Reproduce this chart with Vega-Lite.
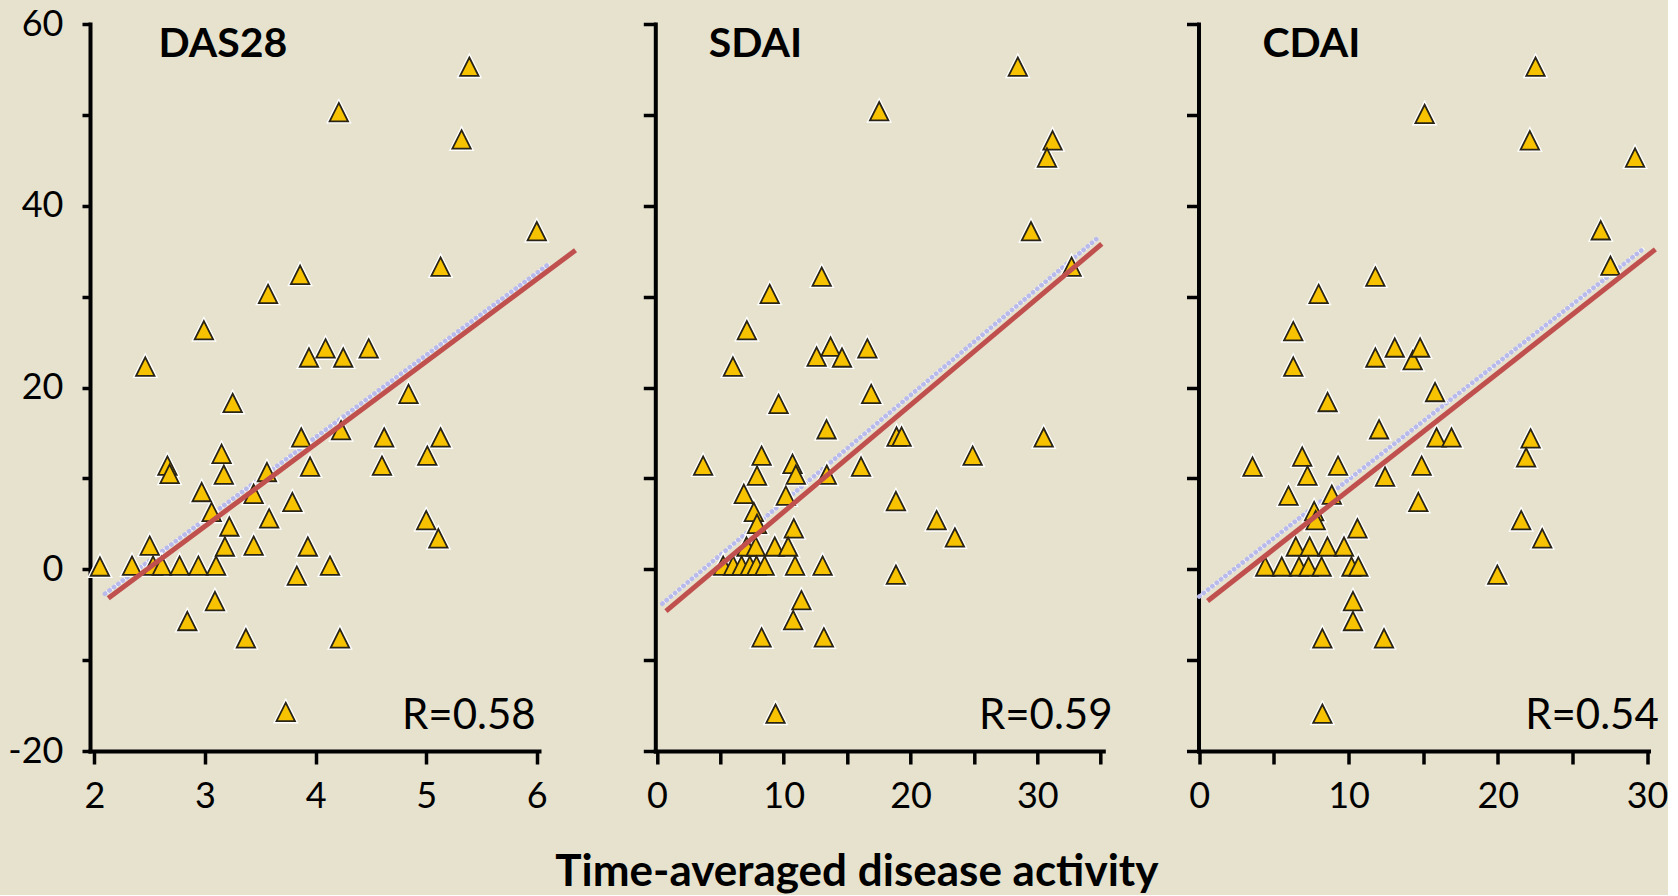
{
  "$schema": "https://vega.github.io/schema/vega-lite/v6.json",
  "background": "#E6E2CE",
  "padding": {"left": 7, "top": 6, "right": 0, "bottom": 0},
  "config": {
    "view": {"stroke": null},
    "font": "Lato",
    "axis": {"grid": false, "domainColor": "#000000", "domainWidth": 4, "tickColor": "#000000", "tickWidth": 3.5, "labelColor": "#000000", "labelFont": "Lato", "labelFontSize": 36, "labelOverlap": false, "labelFlush": false, "labelBound": false, "domainCap": "square"}
  },
  "title": {"text": "Time-averaged disease activity", "orient": "bottom", "anchor": "middle", "frame": "bounds", "fontSize": 44, "fontWeight": "bold", "font": "Lato", "color": "#000000", "offset": 37, "dx": 19},
  "datasets": {
    "das28": [
      {"x": 2.05, "y": 0.3}, {"x": 2.34, "y": 0.4}, {"x": 2.50, "y": 2.6}, {"x": 2.53, "y": 0.4}, {"x": 2.61, "y": 0.4},
      {"x": 2.77, "y": 0.4}, {"x": 2.94, "y": 0.4}, {"x": 3.10, "y": 0.4}, {"x": 2.66, "y": 11.4}, {"x": 2.68, "y": 10.5},
      {"x": 3.15, "y": 12.7}, {"x": 3.17, "y": 10.4}, {"x": 2.97, "y": 8.5}, {"x": 3.06, "y": 6.3}, {"x": 3.22, "y": 4.7},
      {"x": 3.18, "y": 2.5}, {"x": 3.44, "y": 2.6}, {"x": 3.44, "y": 8.3}, {"x": 3.56, "y": 10.7}, {"x": 3.58, "y": 5.6},
      {"x": 3.79, "y": 7.4}, {"x": 3.87, "y": 14.5}, {"x": 3.95, "y": 11.3}, {"x": 4.23, "y": 15.3}, {"x": 4.62, "y": 14.5},
      {"x": 4.60, "y": 11.4}, {"x": 3.93, "y": 2.5}, {"x": 3.83, "y": -0.7}, {"x": 4.13, "y": 0.4}, {"x": 3.09, "y": -3.5},
      {"x": 2.84, "y": -5.7}, {"x": 3.37, "y": -7.6}, {"x": 4.22, "y": -7.6}, {"x": 5.39, "y": 55.3}, {"x": 4.21, "y": 50.3},
      {"x": 5.32, "y": 47.3}, {"x": 6.00, "y": 37.2}, {"x": 5.13, "y": 33.3}, {"x": 3.86, "y": 32.4}, {"x": 3.57, "y": 30.3},
      {"x": 2.99, "y": 26.3}, {"x": 2.46, "y": 22.3}, {"x": 3.94, "y": 23.3}, {"x": 4.09, "y": 24.3}, {"x": 4.25, "y": 23.3},
      {"x": 4.48, "y": 24.3}, {"x": 4.84, "y": 19.3}, {"x": 3.25, "y": 18.3}, {"x": 5.13, "y": 14.5}, {"x": 5.01, "y": 12.5},
      {"x": 5.00, "y": 5.4}, {"x": 5.11, "y": 3.4}, {"x": 3.73, "y": -15.7}
    ],
    "sdai": [
      {"x": 13.38, "y": 15.4}, {"x": 18.9, "y": 14.6}, {"x": 19.3, "y": 14.6}, {"x": 24.9, "y": 12.5}, {"x": 3.65, "y": 11.4},
      {"x": 8.26, "y": 12.5}, {"x": 10.7, "y": 11.6}, {"x": 10.96, "y": 10.4}, {"x": 13.4, "y": 10.4}, {"x": 16.1, "y": 11.3},
      {"x": 7.9, "y": 10.3}, {"x": 6.86, "y": 8.3}, {"x": 10.17, "y": 8.1}, {"x": 18.85, "y": 7.5}, {"x": 7.65, "y": 6.3},
      {"x": 7.9, "y": 5.0}, {"x": 10.8, "y": 4.5}, {"x": 22.06, "y": 5.4}, {"x": 23.5, "y": 3.5}, {"x": 7.07, "y": 2.5},
      {"x": 7.8, "y": 2.5}, {"x": 9.3, "y": 2.5}, {"x": 10.35, "y": 2.5}, {"x": 5.23, "y": 0.4}, {"x": 6.02, "y": 0.4},
      {"x": 6.68, "y": 0.4}, {"x": 7.33, "y": 0.4}, {"x": 7.86, "y": 0.4}, {"x": 8.5, "y": 0.4}, {"x": 10.9, "y": 0.4},
      {"x": 13.07, "y": 0.4}, {"x": 18.85, "y": -0.6}, {"x": 11.4, "y": -3.4}, {"x": 10.75, "y": -5.6}, {"x": 8.26, "y": -7.5},
      {"x": 13.17, "y": -7.5}, {"x": 9.36, "y": -15.9}, {"x": 30.5, "y": 14.5}, {"x": 28.46, "y": 55.3}, {"x": 17.53, "y": 50.4},
      {"x": 31.2, "y": 47.2}, {"x": 30.76, "y": 45.3}, {"x": 29.5, "y": 37.2}, {"x": 32.7, "y": 33.3}, {"x": 13.0, "y": 32.2},
      {"x": 8.9, "y": 30.3}, {"x": 7.1, "y": 26.3}, {"x": 6.0, "y": 22.3}, {"x": 12.6, "y": 23.4}, {"x": 13.7, "y": 24.5},
      {"x": 14.6, "y": 23.3}, {"x": 16.6, "y": 24.3}, {"x": 16.9, "y": 19.3}, {"x": 9.6, "y": 18.2}
    ],
    "cdai": [
      {"x": 12.05, "y": 15.4}, {"x": 15.9, "y": 14.5}, {"x": 16.9, "y": 14.5}, {"x": 22.2, "y": 14.4}, {"x": 21.9, "y": 12.3},
      {"x": 3.57, "y": 11.3}, {"x": 6.9, "y": 12.4}, {"x": 7.25, "y": 10.3}, {"x": 9.3, "y": 11.4}, {"x": 12.45, "y": 10.2},
      {"x": 14.9, "y": 11.4}, {"x": 5.98, "y": 8.1}, {"x": 8.88, "y": 8.2}, {"x": 14.68, "y": 7.4}, {"x": 7.7, "y": 6.4},
      {"x": 7.8, "y": 5.4}, {"x": 10.6, "y": 4.5}, {"x": 21.57, "y": 5.4}, {"x": 22.98, "y": 3.4}, {"x": 6.47, "y": 2.5},
      {"x": 7.4, "y": 2.5}, {"x": 8.59, "y": 2.5}, {"x": 9.7, "y": 2.5}, {"x": 4.42, "y": 0.3}, {"x": 5.53, "y": 0.3},
      {"x": 6.69, "y": 0.3}, {"x": 7.32, "y": 0.3}, {"x": 8.2, "y": 0.3}, {"x": 10.2, "y": 0.3}, {"x": 10.66, "y": 0.3},
      {"x": 19.97, "y": -0.6}, {"x": 10.3, "y": -3.5}, {"x": 10.3, "y": -5.7}, {"x": 8.25, "y": -7.6}, {"x": 12.38, "y": -7.6},
      {"x": 8.25, "y": -15.9}, {"x": 22.53, "y": 55.3}, {"x": 15.1, "y": 50.1}, {"x": 22.15, "y": 47.2}, {"x": 29.2, "y": 45.3},
      {"x": 26.9, "y": 37.3}, {"x": 27.55, "y": 33.4}, {"x": 11.8, "y": 32.2}, {"x": 8.0, "y": 30.3}, {"x": 6.3, "y": 26.2},
      {"x": 6.3, "y": 22.3}, {"x": 11.8, "y": 23.3}, {"x": 13.1, "y": 24.4}, {"x": 14.3, "y": 23.0}, {"x": 14.8, "y": 24.4},
      {"x": 15.8, "y": 19.5}, {"x": 8.6, "y": 18.4}
    ],
    "fits": [
      {"panel": "DAS28", "series": "fit", "x": 2.125, "y": -3.2}, {"panel": "DAS28", "series": "fit", "x": 6.35, "y": 35.1},
      {"panel": "DAS28", "series": "alt", "x": 2.095, "y": -2.7}, {"panel": "DAS28", "series": "alt", "x": 6.11, "y": 33.6},
      {"panel": "SDAI", "series": "fit", "x": 0.72, "y": -4.6}, {"panel": "SDAI", "series": "fit", "x": 35.08, "y": 35.8},
      {"panel": "SDAI", "series": "alt", "x": 0.43, "y": -3.8}, {"panel": "SDAI", "series": "alt", "x": 34.8, "y": 36.5},
      {"panel": "CDAI", "series": "fit", "x": 0.56, "y": -3.5}, {"panel": "CDAI", "series": "fit", "x": 30.56, "y": 35.2},
      {"panel": "CDAI", "series": "alt", "x": 0.0, "y": -3.0}, {"panel": "CDAI", "series": "alt", "x": 29.79, "y": 35.3}
    ]
  },
  "hconcat": [
    {
      "width": 449, "height": 727,
      "layer": [
        {"data": {"name": "fits"}, "transform": [{"filter": "datum.panel === 'DAS28' && datum.series === 'alt'"}], "mark": {"type": "line", "color": "#FFFFFF", "strokeWidth": 3.5},
         "encoding": {
          "x": {"field": "x", "type": "quantitative", "scale": {"domain": [1.96, 6.02], "nice": false, "zero": false}, "axis": {"title": null, "values": [2, 3, 4, 5, 6], "format": "d", "tickSize": 13, "labelPadding": 15}},
          "y": {"field": "y", "type": "quantitative", "scale": {"domain": [-20, 60], "nice": false, "zero": false}, "axis": {"title": null, "values": [-20, -10, 0, 10, 20, 30, 40, 50, 60], "tickSize": 8, "labelPadding": 19, "labelExpr": "datum.value % 20 === 0 ? '' + datum.value : ''"}}
         }},
        {"data": {"name": "fits"}, "transform": [{"filter": "datum.panel === 'DAS28' && datum.series === 'alt'"}], "mark": {"type": "line", "color": "#B9BAEC", "strokeWidth": 4.5, "strokeDash": [0.5, 5], "strokeCap": "round"},
         "encoding": {"x": {"field": "x", "type": "quantitative"}, "y": {"field": "y", "type": "quantitative"}}},
        {"data": {"name": "das28"}, "mark": {"type": "point", "shape": "M0,-1L1,1L-1,1Z", "size": 340, "filled": true, "fill": "#FFFFFF", "stroke": "#FFFFFF", "strokeWidth": 4.5, "opacity": 1},
         "encoding": {"x": {"field": "x", "type": "quantitative"}, "y": {"field": "y", "type": "quantitative"}}},
        {"data": {"name": "das28"}, "mark": {"type": "point", "shape": "M0,-1L1,1L-1,1Z", "size": 340, "filled": true, "fill": "#F7C200", "stroke": "#2A2415", "strokeWidth": 1.8, "opacity": 1},
         "encoding": {"x": {"field": "x", "type": "quantitative"}, "y": {"field": "y", "type": "quantitative"}}},
        {"data": {"name": "fits"}, "transform": [{"filter": "datum.panel === 'DAS28' && datum.series === 'fit'"}], "mark": {"type": "line", "color": "#C0504D", "strokeWidth": 5},
         "encoding": {"x": {"field": "x", "type": "quantitative"}, "y": {"field": "y", "type": "quantitative"}}},
        {"data": {"values": [{"label": "DAS28"}]}, "mark": {"type": "text", "align": "left", "baseline": "middle", "fontSize": 41, "fontWeight": "bold", "font": "Lato", "color": "#000000"},
         "encoding": {"x": {"datum": 2.58, "type": "quantitative"}, "y": {"datum": 57.7, "type": "quantitative"}, "text": {"field": "label"}}},
        {"data": {"values": [{"label": "R=0.58"}]}, "mark": {"type": "text", "align": "right", "baseline": "middle", "fontSize": 42, "font": "Lato", "color": "#000000"},
         "encoding": {"x": {"datum": 5.99, "type": "quantitative"}, "y": {"datum": -16.2, "type": "quantitative"}, "text": {"field": "label"}}}
      ]
    },
    {
      "spacing": 95.2,
      "bounds": "flush",
      "hconcat": [
        {
          "width": 448, "height": 727,
          "layer": [
            {"data": {"name": "fits"}, "transform": [{"filter": "datum.panel === 'SDAI' && datum.series === 'alt'"}], "mark": {"type": "line", "color": "#FFFFFF", "strokeWidth": 3.5},
             "encoding": {
              "x": {"field": "x", "type": "quantitative", "scale": {"domain": [-0.12, 35.2], "nice": false, "zero": false}, "axis": {"title": null, "values": [0, 5, 10, 15, 20, 25, 30, 35], "tickSize": 13, "labelPadding": 15, "labelExpr": "datum.value % 10 === 0 ? datum.label : ''"}},
              "y": {"field": "y", "type": "quantitative", "scale": {"domain": [-20, 60], "nice": false, "zero": false}, "axis": {"title": null, "values": [-20, -10, 0, 10, 20, 30, 40, 50, 60], "tickSize": 12, "labels": false}}
             }},
            {"data": {"name": "fits"}, "transform": [{"filter": "datum.panel === 'SDAI' && datum.series === 'alt'"}], "mark": {"type": "line", "color": "#B9BAEC", "strokeWidth": 4.5, "strokeDash": [0.5, 5], "strokeCap": "round"},
             "encoding": {"x": {"field": "x", "type": "quantitative"}, "y": {"field": "y", "type": "quantitative"}}},
            {"data": {"name": "sdai"}, "mark": {"type": "point", "shape": "M0,-1L1,1L-1,1Z", "size": 340, "filled": true, "fill": "#FFFFFF", "stroke": "#FFFFFF", "strokeWidth": 4.5, "opacity": 1},
             "encoding": {"x": {"field": "x", "type": "quantitative"}, "y": {"field": "y", "type": "quantitative"}}},
            {"data": {"name": "sdai"}, "mark": {"type": "point", "shape": "M0,-1L1,1L-1,1Z", "size": 340, "filled": true, "fill": "#F7C200", "stroke": "#2A2415", "strokeWidth": 1.8, "opacity": 1},
             "encoding": {"x": {"field": "x", "type": "quantitative"}, "y": {"field": "y", "type": "quantitative"}}},
            {"data": {"name": "fits"}, "transform": [{"filter": "datum.panel === 'SDAI' && datum.series === 'fit'"}], "mark": {"type": "line", "color": "#C0504D", "strokeWidth": 5},
             "encoding": {"x": {"field": "x", "type": "quantitative"}, "y": {"field": "y", "type": "quantitative"}}},
            {"data": {"values": [{"label": "SDAI"}]}, "mark": {"type": "text", "align": "left", "baseline": "middle", "fontSize": 41, "fontWeight": "bold", "font": "Lato", "color": "#000000"},
             "encoding": {"x": {"datum": 4.1, "type": "quantitative"}, "y": {"datum": 57.7, "type": "quantitative"}, "text": {"field": "label"}}},
            {"data": {"values": [{"label": "R=0.59"}]}, "mark": {"type": "text", "align": "right", "baseline": "middle", "fontSize": 42, "font": "Lato", "color": "#000000"},
             "encoding": {"x": {"datum": 35.93, "type": "quantitative"}, "y": {"datum": -16.2, "type": "quantitative"}, "text": {"field": "label"}}}
          ]
        },
        {
          "width": 450, "height": 727,
          "layer": [
            {"data": {"name": "fits"}, "transform": [{"filter": "datum.panel === 'CDAI' && datum.series === 'alt'"}], "mark": {"type": "line", "color": "#FFFFFF", "strokeWidth": 3.5},
             "encoding": {
              "x": {"field": "x", "type": "quantitative", "scale": {"domain": [-0.05, 30.1], "nice": false, "zero": false}, "axis": {"title": null, "values": [0, 5, 10, 15, 20, 25, 30], "tickSize": 13, "labelPadding": 15, "labelExpr": "datum.value % 10 === 0 ? datum.label : ''"}},
              "y": {"field": "y", "type": "quantitative", "scale": {"domain": [-20, 60], "nice": false, "zero": false}, "axis": {"title": null, "values": [-20, -10, 0, 10, 20, 30, 40, 50, 60], "tickSize": 12, "labels": false}}
             }},
            {"data": {"name": "fits"}, "transform": [{"filter": "datum.panel === 'CDAI' && datum.series === 'alt'"}], "mark": {"type": "line", "color": "#B9BAEC", "strokeWidth": 4.5, "strokeDash": [0.5, 5], "strokeCap": "round"},
             "encoding": {"x": {"field": "x", "type": "quantitative"}, "y": {"field": "y", "type": "quantitative"}}},
            {"data": {"name": "cdai"}, "mark": {"type": "point", "shape": "M0,-1L1,1L-1,1Z", "size": 340, "filled": true, "fill": "#FFFFFF", "stroke": "#FFFFFF", "strokeWidth": 4.5, "opacity": 1},
             "encoding": {"x": {"field": "x", "type": "quantitative"}, "y": {"field": "y", "type": "quantitative"}}},
            {"data": {"name": "cdai"}, "mark": {"type": "point", "shape": "M0,-1L1,1L-1,1Z", "size": 340, "filled": true, "fill": "#F7C200", "stroke": "#2A2415", "strokeWidth": 1.8, "opacity": 1},
             "encoding": {"x": {"field": "x", "type": "quantitative"}, "y": {"field": "y", "type": "quantitative"}}},
            {"data": {"name": "fits"}, "transform": [{"filter": "datum.panel === 'CDAI' && datum.series === 'fit'"}], "mark": {"type": "line", "color": "#C0504D", "strokeWidth": 5},
             "encoding": {"x": {"field": "x", "type": "quantitative"}, "y": {"field": "y", "type": "quantitative"}}},
            {"data": {"values": [{"label": "CDAI"}]}, "mark": {"type": "text", "align": "left", "baseline": "middle", "fontSize": 41, "fontWeight": "bold", "font": "Lato", "color": "#000000"},
             "encoding": {"x": {"datum": 4.23, "type": "quantitative"}, "y": {"datum": 57.7, "type": "quantitative"}, "text": {"field": "label"}}},
            {"data": {"values": [{"label": "R=0.54"}]}, "mark": {"type": "text", "align": "right", "baseline": "middle", "fontSize": 42, "font": "Lato", "color": "#000000"},
             "encoding": {"x": {"datum": 30.79, "type": "quantitative"}, "y": {"datum": -16.2, "type": "quantitative"}, "text": {"field": "label"}}}
          ]
        }
      ]
    }
  ],
  "spacing": 116.3,
  "bounds": "flush"
}
